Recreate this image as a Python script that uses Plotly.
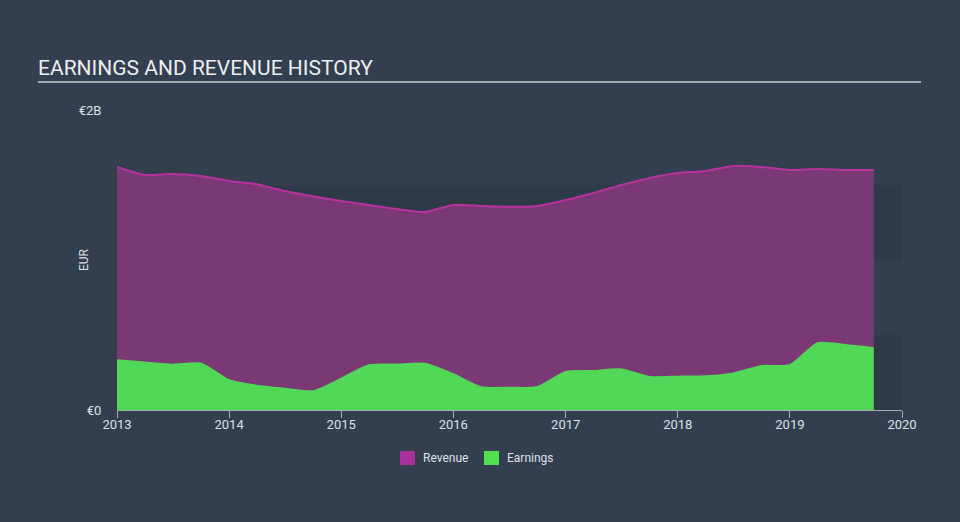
import plotly.graph_objects as go

dates = ["2013-01-01", "2013-04-01", "2013-07-01", "2013-10-01",
         "2014-01-01", "2014-04-01", "2014-07-01", "2014-10-01",
         "2015-01-01", "2015-04-01", "2015-07-01", "2015-10-01",
         "2016-01-01", "2016-04-01", "2016-07-01", "2016-10-01",
         "2017-01-01", "2017-04-01", "2017-07-01", "2017-10-01",
         "2018-01-01", "2018-04-01", "2018-07-01", "2018-10-01",
         "2019-01-01", "2019-04-01", "2019-07-01", "2019-10-01"]
revenue = [1.62, 1.567, 1.573, 1.56,
           1.527, 1.505, 1.46, 1.425,
           1.393, 1.367, 1.34, 1.32,
           1.367, 1.36, 1.355, 1.36,
           1.40, 1.447, 1.50, 1.547,
           1.58, 1.593, 1.627, 1.62,
           1.60, 1.607, 1.60, 1.60]
earnings = [0.333, 0.318, 0.304, 0.311,
            0.20, 0.164, 0.144, 0.127,
            0.21, 0.30, 0.305, 0.31,
            0.24, 0.153, 0.15, 0.155,
            0.255, 0.262, 0.272, 0.222,
            0.224, 0.226, 0.245, 0.295,
            0.30, 0.447, 0.435, 0.415]
revenue = [v * 1e9 for v in revenue]
earnings = [v * 1e9 for v in earnings]
legend_names = ["Revenue", "Earnings"]
legend_colors = ["#a8329a", "#4fe04f"]
year_ticks = ["2013-01-01", "2014-01-01", "2015-01-01", "2016-01-01",
              "2017-01-01", "2018-01-01", "2019-01-01", "2020-01-01"]
year_labels = ["2013", "2014", "2015", "2016", "2017", "2018", "2019", "2020"]

BG = "#333f4f"
REV_FILL = "#7a3975"
REV_LINE = "#b8329e"
EARN_FILL = "#52d857"
TXT = "#dde0e4"

PL, PR, PT, PB = 117, 902, 110, 410
PW, PH = PR - PL, PB - PT

def px_x(x):
    return (x - PL) / PW

def px_y(y):
    return (PB - y) / PH

fig = go.Figure()
fig.add_trace(go.Scatter(x=dates, y=revenue, mode="lines", fill="tozeroy",
                         fillcolor=REV_FILL, line=dict(color=REV_LINE, width=2, shape="spline", smoothing=0.6),
                         showlegend=False, hoverinfo="skip"))
fig.add_trace(go.Scatter(x=dates, y=earnings, mode="lines", fill="tozeroy",
                         fillcolor=EARN_FILL, line=dict(color=EARN_FILL, width=1.5, shape="spline", smoothing=0.6),
                         showlegend=False, hoverinfo="skip"))

shapes = []
annotations = []
for y0, y1 in [(0, 0.5e9), (1.0e9, 1.5e9)]:
    shapes.append(dict(type="rect", xref="paper", yref="y", x0=0, x1=1, y0=y0, y1=y1,
                       fillcolor="rgba(20,28,38,0.13)", line=dict(width=0), layer="below"))
shapes.append(dict(type="line", xref="paper", yref="paper",
                   x0=px_x(38), x1=px_x(921), y0=px_y(82), y1=px_y(82),
                   line=dict(color="#a3aab2", width=2)))

# legend (manual)
leg_x = [400, 484]
for name, col, lx in zip(legend_names, legend_colors, leg_x):
    shapes.append(dict(type="rect", xref="paper", yref="paper",
                       x0=px_x(lx), x1=px_x(lx + 15), y0=px_y(465), y1=px_y(451),
                       fillcolor=col, line=dict(width=0)))
    annotations.append(dict(text=name, xref="paper", yref="paper", x=px_x(lx + 21), y=px_y(458),
                            xanchor="left", yanchor="middle", showarrow=False,
                            font=dict(size=12, color=TXT)))

annotations.append(dict(text="EUR", xref="paper", yref="paper", x=px_x(84), y=px_y(260),
                        xanchor="center", yanchor="middle", textangle=-90, showarrow=False,
                        font=dict(size=12, color=TXT)))

fig.update_layout(
    width=960, height=522,
    margin=dict(l=PL, r=960 - PR, t=PT, b=522 - PB),
    paper_bgcolor=BG, plot_bgcolor="rgba(0,0,0,0)",
    font=dict(family="Roboto, sans-serif", color=TXT, size=12),
    shapes=shapes, annotations=annotations,
    title=dict(text="EARNINGS AND REVENUE HISTORY", x=38 / 960, xanchor="left",
               y=1 - 68 / 522, yanchor="middle",
               font=dict(size=21, color="#eceef0", family="Roboto, sans-serif")),
    showlegend=False,
    xaxis=dict(type="date", range=["2013-01-01", "2020-01-01"], showgrid=False, zeroline=False,
               showline=True, linecolor="#a3aab2", linewidth=1,
               ticks="outside", ticklen=7, tickcolor="#a3aab2", ticklabelstandoff=-5,
               tickvals=year_ticks, ticktext=year_labels,
               tickfont=dict(size=13, color=TXT)),
    yaxis=dict(range=[0, 2e9], showgrid=False, zeroline=False, showline=False,
               tickvals=[0, 2e9], ticktext=["€0", "€2B"],
               ticks="outside", ticklen=12, tickcolor="rgba(0,0,0,0)",
               tickfont=dict(size=13, color=TXT)),
)

fig.write_html("out.html")
